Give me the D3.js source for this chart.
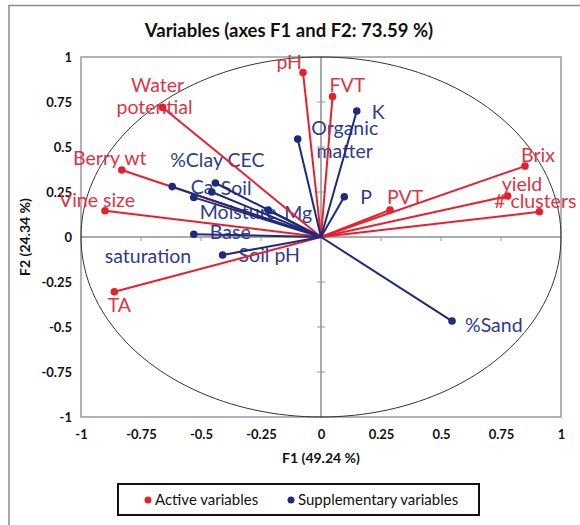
<!DOCTYPE html>
<html>
<head>
<meta charset="utf-8">
<script src="https://cdn.jsdelivr.net/npm/d3@7/dist/d3.min.js"></script>
<style>
  html, body { margin: 0; padding: 0; background: #fff; }
  svg { display: block; font-family: Lato, "Open Sans", sans-serif; }
</style>
</head>
<body>
<svg id="chart" width="580" height="525"></svg>
<script>
// Active variables: names and coordinates on F1 / F2
const activeNames = ["pH", "FVT", "Water potential", "Berry wt", "Vine size", "TA", "Brix", "yield", "# clusters", "PVT"];
const activeF1 = [-0.075, 0.048, -0.66, -0.83, -0.90, -0.861, 0.85, 0.778, 0.91, 0.2875];
const activeF2 = [0.914, 0.78, 0.72, 0.372, 0.146, -0.304, 0.394, 0.228, 0.14, 0.15];

// Supplementary variables: names and coordinates on F1 / F2
const suppNames = ["Organic matter", "K", "P", "%Clay", "CEC", "Soil Moisture", "Ca", "Mg", "Base saturation", "Soil pH", "%Sand"];
const suppF1 = [-0.097, 0.149, 0.097, -0.62, -0.44, -0.455, -0.53, -0.22, -0.53, -0.41, 0.546];
const suppF2 = [0.544, 0.70, 0.224, 0.28, 0.30, 0.25, 0.22, 0.15, 0.015, -0.10, -0.467];

// Tick values and labels
const tickValues = [-1, -0.75, -0.5, -0.25, 0, 0.25, 0.5, 0.75, 1];
const tickLabels = ["-1", "-0.75", "-0.5", "-0.25", "0", "0.25", "0.5", "0.75", "1"];

// Label placement (pixel offsets from each point), one entry per text line
const labelLayout = {
  "pH": [{ t: "pH", dx: -1, dy: -3, a: "end" }],
  "FVT": [{ t: "FVT", dx: -3, dy: -5, a: "start" }],
  "Water potential": [{ t: "Water", dx: -5, dy: -15, a: "middle" }, { t: "potential", dx: -8, dy: 7, a: "middle" }],
  "Berry wt": [{ t: "Berry wt", dx: -12, dy: -5, a: "middle" }],
  "Vine size": [{ t: "Vine size", dx: -8, dy: -4, a: "middle" }],
  "TA": [{ t: "TA", dx: 5, dy: 20, a: "middle" }],
  "Brix": [{ t: "Brix", dx: -4, dy: -4, a: "start" }],
  "yield": [{ t: "yield", dx: -6, dy: -5, a: "start" }],
  "# clusters": [{ t: "# clusters", dx: 37, dy: -4, a: "end" }],
  "PVT": [{ t: "PVT", dx: -3, dy: -6, a: "start" }],
  "Organic matter": [{ t: "Organic", dx: 47, dy: -4, a: "middle" }, { t: "matter", dx: 47, dy: 19, a: "middle" }],
  "K": [{ t: "K", dx: 15, dy: 8, a: "start" }],
  "P": [{ t: "P", dx: 16, dy: 7, a: "start" }],
  "%Clay": [{ t: "%Clay", dx: -2, dy: -20, a: "start" }],
  "CEC": [{ t: "CEC", dx: 12, dy: -16, a: "start" }],
  "Soil Moisture": [{ t: "Soil", dx: 9, dy: 3, a: "start" }, { t: "Moisture", dx: -12, dy: 27, a: "start" }],
  "Ca": [{ t: "Ca", dx: -3, dy: -3, a: "start" }],
  "Mg": [{ t: "Mg", dx: 16, dy: 10, a: "start" }],
  "Base saturation": [{ t: "Base", dx: 16, dy: 5, a: "start" }, { t: "saturation", dx: -89, dy: 29, a: "start" }],
  "Soil pH": [{ t: "Soil pH", dx: 16, dy: 7, a: "start" }],
  "%Sand": [{ t: "%Sand", dx: 13, dy: 11, a: "start" }]
};

const RED = "#e8202e", RED_TXT = "#dc3545";
const BLUE = "#1e2a7c", BLUE_TXT = "#2e3b8e";

const svg = d3.select("#chart");
const plot = { left: 81, right: 561, top: 57, bottom: 417 };

const x = d3.scaleLinear().domain([-1, 1]).range([plot.left, plot.right]);
const y = d3.scaleLinear().domain([-1, 1]).range([plot.bottom, plot.top]);

// Outer frame
svg.append("path")
  .attr("d", `M9,525 L9,5.5 L580,5.5`)
  .attr("fill", "none").attr("stroke", "#8a8a8a").attr("stroke-width", 1.5);

// Title
svg.append("text")
  .attr("x", 289).attr("y", 37)
  .attr("text-anchor", "middle")
  .attr("font-weight", "bold").attr("font-size", 18.5)
  .attr("fill", "#111")
  .text("Variables (axes F1 and F2: 73.59 %)");

// Plot border
svg.append("rect")
  .attr("x", plot.left).attr("y", plot.top)
  .attr("width", plot.right - plot.left).attr("height", plot.bottom - plot.top)
  .attr("fill", "none").attr("stroke", "#9a9a9a").attr("stroke-width", 1.5);

// Tick labels: y on the left, x below
const yAxis = d3.axisLeft(y).tickValues(tickValues).tickSize(0).tickPadding(0)
  .tickFormat((d, i) => tickLabels[i]);
const gy = svg.append("g").attr("transform", `translate(${plot.left - 9},0)`).call(yAxis);
gy.select(".domain").remove();
gy.selectAll("text").attr("font-size", 13).attr("font-weight", "bold")
  .attr("fill", "#111").attr("font-family", "Lato, sans-serif");

const xAxis = d3.axisBottom(x).tickValues(tickValues).tickSize(0).tickPadding(0)
  .tickFormat((d, i) => tickLabels[i]);
const gx = svg.append("g").attr("transform", `translate(0,${plot.bottom + 13})`).call(xAxis);
gx.select(".domain").remove();
gx.selectAll("text").attr("font-size", 13).attr("font-weight", "bold")
  .attr("fill", "#111").attr("font-family", "Lato, sans-serif");

// Axis titles
svg.append("text")
  .attr("x", x(0)).attr("y", 463)
  .attr("text-anchor", "middle").attr("font-weight", "bold").attr("font-size", 14)
  .attr("fill", "#111").text("F1 (49.24 %)");
svg.append("text")
  .attr("transform", `translate(30,${y(0)}) rotate(-90)`)
  .attr("text-anchor", "middle").attr("font-weight", "bold").attr("font-size", 14)
  .attr("fill", "#111").text("F2 (24.34 %)");

// Central axes with small ticks
const axes = svg.append("g").attr("stroke", "#555").attr("stroke-width", 1);
axes.append("line").attr("x1", plot.left).attr("x2", plot.right).attr("y1", y(0)).attr("y2", y(0));
axes.append("line").attr("x1", x(0)).attr("x2", x(0)).attr("y1", plot.top).attr("y2", plot.bottom);
tickValues.filter(v => v !== 0 && Math.abs(v) !== 1).forEach(v => {
  axes.append("line").attr("x1", x(v)).attr("x2", x(v)).attr("y1", y(0)).attr("y2", y(0) + 4).attr("stroke", "#999");
  axes.append("line").attr("x1", x(0) - 4).attr("x2", x(0) + 4).attr("y1", y(v)).attr("y2", y(v)).attr("stroke", "#999");
});

// Correlation circle (unit circle in data space)
const circlePts = d3.range(0, 361, 2).map(a => [Math.cos(a * Math.PI / 180), Math.sin(a * Math.PI / 180)]);
svg.append("path")
  .attr("d", d3.line().x(d => x(d[0])).y(d => y(d[1]))(circlePts) + "Z")
  .attr("fill", "none").attr("stroke", "#333").attr("stroke-width", 1);

const active = activeNames.map((n, i) => ({ name: n, f1: activeF1[i], f2: activeF2[i] }));
const supp = suppNames.map((n, i) => ({ name: n, f1: suppF1[i], f2: suppF2[i] }));

// Variable labels
function drawLabels(data, color) {
  data.forEach(d => {
    (labelLayout[d.name] || []).forEach(l => {
      svg.append("text")
        .attr("x", x(d.f1) + l.dx).attr("y", y(d.f2) + l.dy)
        .attr("text-anchor", l.a)
        .attr("font-size", 19.5).attr("fill", color)
        .text(l.t);
    });
  });
}
drawLabels(active, RED_TXT);
drawLabels(supp, BLUE_TXT);

// Vectors and end points
function drawVectors(data, color) {
  const g = svg.append("g");
  g.selectAll("line").data(data).join("line")
    .attr("x1", x(0)).attr("y1", y(0))
    .attr("x2", d => x(d.f1)).attr("y2", d => y(d.f2))
    .attr("stroke", color).attr("stroke-width", 2);
  g.selectAll("circle").data(data).join("circle")
    .attr("cx", d => x(d.f1)).attr("cy", d => y(d.f2))
    .attr("r", 3.8).attr("fill", color);
}
drawVectors(active, RED);
drawVectors(supp, BLUE);

// Legend
const leg = svg.append("g");
leg.append("rect").attr("x", 118).attr("y", 484).attr("width", 361).attr("height", 31)
  .attr("fill", "#fff").attr("stroke", "#111").attr("stroke-width", 2);
leg.append("circle").attr("cx", 148).attr("cy", 500).attr("r", 3.5).attr("fill", RED);
leg.append("text").attr("x", 155).attr("y", 505).attr("font-size", 15).attr("fill", "#111").text("Active variables");
leg.append("circle").attr("cx", 291).attr("cy", 500).attr("r", 3.5).attr("fill", BLUE);
leg.append("text").attr("x", 298).attr("y", 505).attr("font-size", 15).attr("fill", "#111").text("Supplementary variables");
</script>
</body>
</html>
